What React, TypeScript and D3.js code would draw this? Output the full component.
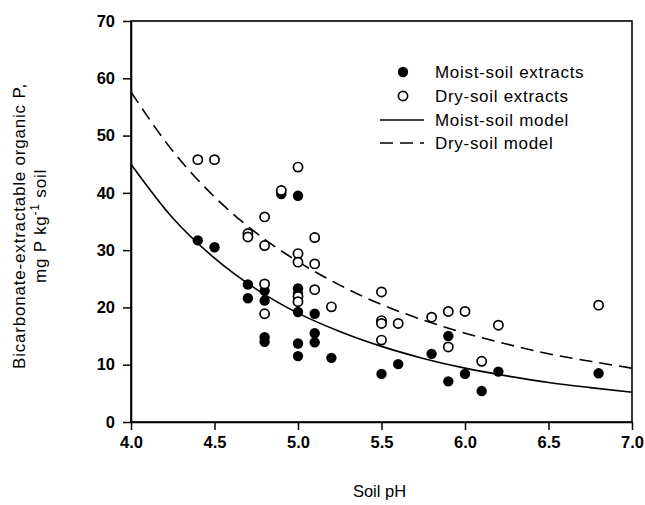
// Scatter of bicarbonate-extractable organic P vs soil pH, with two fitted model curves.
import { useEffect, useRef } from "react";
import * as d3 from "d3";

const moistExtracts: [number, number][] = [
  [4.4, 31.7], [4.5, 30.5], [4.7, 24.0], [4.7, 21.6], [4.8, 22.9], [4.8, 21.2],
  [4.8, 14.8], [4.8, 14.0], [4.9, 39.8], [5.0, 39.5], [5.0, 23.3], [5.0, 22.4],
  [5.0, 19.2], [5.0, 13.7], [5.0, 11.5], [5.1, 18.9], [5.1, 15.5], [5.1, 13.9],
  [5.2, 11.2], [5.5, 8.4], [5.6, 10.1], [5.8, 11.9], [5.9, 15.0], [5.9, 7.1],
  [6.0, 8.4], [6.1, 5.4], [6.2, 8.8], [6.8, 8.5],
];

const dryExtracts: [number, number][] = [
  [4.4, 45.8], [4.5, 45.8], [4.7, 32.9], [4.7, 32.3], [4.8, 35.8], [4.8, 30.8],
  [4.8, 24.1], [4.8, 18.9], [4.9, 40.4], [5.0, 44.5], [5.0, 29.4], [5.0, 27.9],
  [5.0, 21.9], [5.0, 21.0], [5.1, 32.2], [5.1, 27.6], [5.1, 23.1], [5.2, 20.1],
  [5.5, 22.7], [5.5, 17.7], [5.5, 17.2], [5.5, 14.3], [5.6, 17.2], [5.8, 18.3],
  [5.9, 19.3], [5.9, 13.1], [6.0, 19.3], [6.1, 10.6], [6.2, 16.9], [6.8, 20.4],
];

// Model curves, every 0.25 pH
const modelPH = [4.0, 4.25, 4.5, 4.75, 5.0, 5.25, 5.5, 5.75, 6.0, 6.25, 6.5, 6.75, 7.0];
const moistModel = [45.0, 35.6, 28.6, 23.2, 19.0, 15.8, 13.2, 11.1, 9.4, 8.05, 6.9, 6.0, 5.2];
const dryModel = [57.6, 47.3, 39.3, 33.0, 28.0, 23.9, 20.5, 17.8, 15.5, 13.6, 11.9, 10.6, 9.4];

const xTicks = [4.0, 4.5, 5.0, 5.5, 6.0, 6.5, 7.0];
const yTicks = [0, 10, 20, 30, 40, 50, 60, 70];

const legendItems = ["Moist-soil extracts", "Dry-soil extracts", "Moist-soil model", "Dry-soil model"];

export default function App() {
  const svgRef = useRef<SVGSVGElement | null>(null);
  const width = 645;
  const height = 505;

  useEffect(() => {
    const svg = d3.select(svgRef.current);
    svg.selectAll("*").remove();
    const font = "Arial, 'Liberation Sans', sans-serif";

    const x = d3.scaleLinear().domain([4, 7]).range([131, 632]);
    const y = d3.scaleLinear().domain([0, 70]).range([422, 21]);

    // Frame
    svg.append("rect")
      .attr("x", x(4)).attr("y", y(70))
      .attr("width", x(7) - x(4)).attr("height", y(0) - y(70))
      .attr("fill", "none").attr("stroke", "#000").attr("stroke-width", 1.6);

    // Axes
    const ax = svg.append("g")
      .attr("transform", `translate(0,${y(0)})`)
      .call(d3.axisBottom(x).tickValues(xTicks).tickFormat(d3.format(".1f")).tickSize(8).tickSizeOuter(0).tickPadding(6));
    const ay = svg.append("g")
      .attr("transform", `translate(${x(4)},0)`)
      .call(d3.axisLeft(y).tickValues(yTicks).tickSize(8).tickSizeOuter(0).tickPadding(8));

    [ax, ay].forEach(a => {
      a.select(".domain").attr("stroke", "#000").attr("stroke-width", 1.6);
      a.selectAll(".tick line").attr("stroke", "#000").attr("stroke-width", 1.5);
      a.selectAll("text")
        .attr("fill", "#000")
        .attr("font-family", font)
        .attr("font-weight", "bold")
        .attr("font-size", 16.5);
    });

    // Model lines
    const line = d3.line<[number, number]>()
      .x(d => x(d[0]))
      .y(d => y(d[1]))
      .curve(d3.curveMonotoneX);

    svg.append("path")
      .datum(modelPH.map((p, i) => [p, moistModel[i]] as [number, number]))
      .attr("d", line)
      .attr("fill", "none").attr("stroke", "#000").attr("stroke-width", 1.6);

    svg.append("path")
      .datum(modelPH.map((p, i) => [p, dryModel[i]] as [number, number]))
      .attr("d", line)
      .attr("fill", "none").attr("stroke", "#000").attr("stroke-width", 1.6)
      .attr("stroke-dasharray", "13,7");

    // Points: filled first, open on top
    svg.append("g").selectAll("circle")
      .data(moistExtracts)
      .enter().append("circle")
      .attr("cx", d => x(d[0])).attr("cy", d => y(d[1]))
      .attr("r", 5.2).attr("fill", "#000");

    svg.append("g").selectAll("circle")
      .data(dryExtracts)
      .enter().append("circle")
      .attr("cx", d => x(d[0])).attr("cy", d => y(d[1]))
      .attr("r", 4.6).attr("fill", "#fff").attr("stroke", "#000").attr("stroke-width", 1.7);

    // Legend
    const lg = svg.append("g");
    const rowY = [72, 96, 120, 143];
    lg.append("circle").attr("cx", 403).attr("cy", rowY[0]).attr("r", 5.2).attr("fill", "#000");
    lg.append("circle").attr("cx", 403).attr("cy", rowY[1]).attr("r", 4.6)
      .attr("fill", "#fff").attr("stroke", "#000").attr("stroke-width", 1.7);
    lg.append("line").attr("x1", 380).attr("x2", 424).attr("y1", rowY[2]).attr("y2", rowY[2])
      .attr("stroke", "#000").attr("stroke-width", 1.5);
    lg.append("line").attr("x1", 380).attr("x2", 424).attr("y1", rowY[3]).attr("y2", rowY[3])
      .attr("stroke", "#000").attr("stroke-width", 1.5).attr("stroke-dasharray", "13,7");
    lg.selectAll("text")
      .data(legendItems)
      .enter().append("text")
      .attr("x", 435)
      .attr("y", (_, i) => rowY[i])
      .attr("dy", "0.35em")
      .attr("font-family", font)
      .attr("font-size", 17)
      .attr("letter-spacing", 0.7)
      .text(d => d);

    // Axis titles
    svg.append("text")
      .attr("x", x(5.5) - 2).attr("y", 497)
      .attr("text-anchor", "middle")
      .attr("font-family", font).attr("font-size", 16.5)
      .text("Soil pH");

    const yt = svg.append("g").attr("transform", "translate(0,226) rotate(-90)");
    yt.append("text")
      .attr("x", 0).attr("y", 25)
      .attr("text-anchor", "middle")
      .attr("font-family", font).attr("font-size", 17)
      .attr("letter-spacing", 0.8)
      .text("Bicarbonate-extractable organic P,");
    const t2 = yt.append("text")
      .attr("x", 0).attr("y", 46)
      .attr("text-anchor", "middle")
      .attr("font-family", font).attr("font-size", 17)
      .attr("letter-spacing", 0.8);
    t2.append("tspan").text("mg P kg");
    t2.append("tspan").attr("dy", -7).attr("font-size", 12).text("-1");
    t2.append("tspan").attr("dy", 7).text(" soil");
  }, []);

  return <svg ref={svgRef} width={width} height={height} style={{ display: "block", position: "absolute", left: 0, top: 0 }} />;
}
